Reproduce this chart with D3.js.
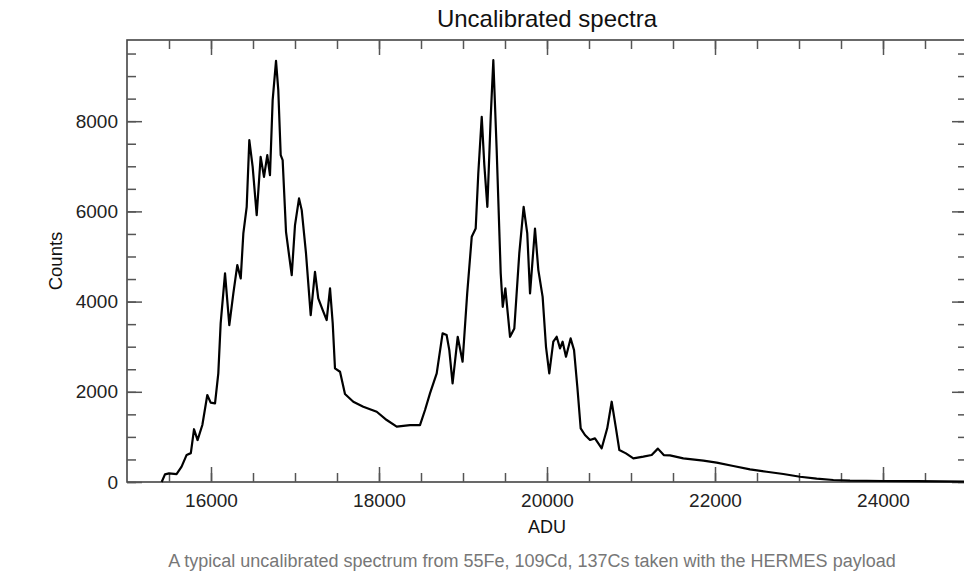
<!DOCTYPE html>
<html>
<head>
<meta charset="utf-8">
<script src="https://cdn.jsdelivr.net/npm/d3@7"></script>
<style>
    body { margin: 0; background: #fff; }
    #chart { width: 964px; height: 576px; }
    text { font-family: "Liberation Sans", Arial, sans-serif; }
</style>
</head>
<body>
<div id="chart"></div>
<script>
// spectrum (ADU channel, counts)
const adu = [15413, 15452, 15500, 15590, 15650, 15710, 15760, 15798, 15840, 15897,
    15956, 15996, 16048, 16087, 16115, 16167, 16218, 16266, 16313, 16354,
    16385, 16425, 16456, 16496, 16544, 16591, 16631, 16670, 16702, 16734,
    16774, 16801, 16830, 16853, 16893, 16932, 16961, 17000, 17048, 17080,
    17131, 17187, 17238, 17277, 17330, 17377, 17417, 17449, 17476, 17536,
    17595, 17694, 17813, 17973, 18092, 18211, 18369, 18488, 18548, 18607,
    18687, 18757, 18805, 18837, 18876, 18937, 18995, 19050, 19104, 19151,
    19182, 19223, 19254, 19290, 19330, 19361, 19401, 19449, 19473, 19504,
    19560, 19611, 19670, 19722, 19765, 19798, 19857, 19897, 19948, 19988,
    20027, 20075, 20115, 20155, 20186, 20226, 20281, 20322, 20361, 20401,
    20452, 20512, 20571, 20651, 20717, 20770, 20821, 20861, 20940, 21028,
    21147, 21246, 21320, 21390, 21464, 21623, 21862, 22020, 22218, 22417,
    22615, 22813, 23012, 23210, 23409, 23607, 24004, 24400, 25000];
const counts = [0, 170, 190, 175, 340, 600, 640, 1170, 930, 1263,
    1928, 1760, 1744, 2409, 3517, 4625, 3479, 4182, 4809, 4514,
    5511, 6101, 7579, 6987, 5917, 7209, 6765, 7246, 6803, 8465,
    9336, 8687, 7246, 7136, 5547, 4993, 4587, 5695, 6287, 6028,
    5067, 3701, 4661, 4071, 3812, 3590, 4292, 3517, 2520, 2445,
    1950, 1780, 1669, 1558, 1374, 1226, 1263, 1263, 1596, 1965,
    2409, 3295, 3258, 2925, 2187, 3220, 2666, 4182, 5436, 5621,
    6840, 8095, 7025, 6101, 8095, 9352, 7357, 4625, 3885, 4292,
    3220, 3406, 5067, 6101, 5511, 4182, 5621, 4698, 4106, 2998,
    2409, 3110, 3220, 2963, 3110, 2777, 3184, 2925, 2112, 1190,
    1042, 931, 968, 747, 1190, 1780, 1190, 709, 635, 525,
    561, 598, 740, 598, 590, 525, 472, 428, 355, 281,
    228, 177, 117, 73, 44, 29, 22, 18, 10];

const xDomain = [15000, 25000];
const yDomain = [0, 9800];
const xMajorTicks = [16000, 18000, 20000, 22000, 24000];
const xMinorTicks = d3.range(15500, 25000, 500);
const yMajorTicks = [0, 2000, 4000, 6000, 8000];
const yMinorTicks = d3.range(0, 10000, 500);

const titleText = "Uncalibrated spectra";
const xLabel = "ADU";
const yLabel = "Counts";
const caption = "A typical uncalibrated spectrum from 55Fe, 109Cd, 137Cs taken with the HERMES payload";

class spectrumChart {

    constructor(parentElement) {
        this.parentElement = parentElement;
        this.data = adu.map((a, i) => ({adu: a, counts: counts[i]}));
        this.initVis();
    }

    initVis() {
        let vis = this;

        // plot box, the right edge runs just past the window
        vis.margin = {top: 40, right: -3, bottom: 94, left: 127};
        vis.width = 964 - vis.margin.left - vis.margin.right;
        vis.height = 576 - vis.margin.top - vis.margin.bottom;

        vis.root = d3.select("#" + vis.parentElement).append("svg")
            .attr("width", 964)
            .attr("height", 576);

        vis.svg = vis.root.append("g")
            .attr("transform", `translate(${vis.margin.left}, ${vis.margin.top})`);

        vis.x = d3.scaleLinear().domain(xDomain).range([0, vis.width]);
        vis.y = d3.scaleLinear().domain(yDomain).range([vis.height, 0]);

        // frame
        vis.svg.append("rect")
            .attr("width", vis.width)
            .attr("height", vis.height)
            .attr("fill", "none")
            .attr("stroke", "#444")
            .attr("stroke-width", 1.6);

        // ticks point inwards on all four sides
        let noLabel = () => "";
        vis.drawAxis(d3.axisBottom(vis.x).tickValues(xMinorTicks).tickSize(-9).tickFormat(noLabel), `translate(0, ${vis.height})`);
        vis.drawAxis(d3.axisBottom(vis.x).tickValues(xMajorTicks).tickSize(-15).tickPadding(12).tickFormat(d3.format("d")), `translate(0, ${vis.height})`);
        vis.drawAxis(d3.axisTop(vis.x).tickValues(xMinorTicks).tickSize(-9).tickFormat(noLabel), "translate(0, 0)");
        vis.drawAxis(d3.axisTop(vis.x).tickValues(xMajorTicks).tickSize(-15).tickFormat(noLabel), "translate(0, 0)");
        vis.drawAxis(d3.axisLeft(vis.y).tickValues(yMinorTicks).tickSize(-9).tickFormat(noLabel), "translate(0, 0)");
        vis.drawAxis(d3.axisLeft(vis.y).tickValues(yMajorTicks).tickSize(-15).tickPadding(9).tickFormat(d3.format("d")), "translate(0, 0)");
        vis.drawAxis(d3.axisRight(vis.y).tickValues(yMinorTicks).tickSize(-9).tickFormat(noLabel), `translate(${vis.width}, 0)`);
        vis.drawAxis(d3.axisRight(vis.y).tickValues(yMajorTicks).tickSize(-15).tickFormat(noLabel), `translate(${vis.width}, 0)`);

        // title and axis labels
        vis.svg.append("text")
            .attr("x", vis.width / 2)
            .attr("y", -13)
            .attr("text-anchor", "middle")
            .attr("font-size", 24)
            .attr("fill", "#111")
            .text(titleText);

        vis.svg.append("text")
            .attr("x", vis.width / 2)
            .attr("y", vis.height + 51)
            .attr("text-anchor", "middle")
            .attr("font-size", 18)
            .attr("fill", "#111")
            .text(xLabel);

        vis.svg.append("text")
            .attr("transform", `translate(-65, ${vis.height / 2}) rotate(-90)`)
            .attr("text-anchor", "middle")
            .attr("font-size", 18.5)
            .attr("fill", "#111")
            .text(yLabel);

        vis.root.append("text")
            .attr("x", 532)
            .attr("y", 567)
            .attr("text-anchor", "middle")
            .attr("font-size", 18)
            .attr("fill", "#777")
            .text(caption);

        this.updateVis();
    }

    drawAxis(axis, transform) {
        let vis = this;
        let g = vis.svg.append("g")
            .attr("transform", transform)
            .call(axis.tickSizeOuter(0));
        g.select(".domain").remove();
        g.selectAll(".tick line")
            .attr("stroke", "#555")
            .attr("stroke-width", 1.5);
        g.selectAll(".tick text")
            .attr("font-size", 19)
            .attr("font-family", "'Liberation Sans', Arial, sans-serif")
            .attr("fill", "#222");
    }

    updateVis() {
        let vis = this;

        let line = d3.line()
            .x(d => vis.x(d.adu))
            .y(d => vis.y(d.counts));

        vis.svg.append("path")
            .datum(vis.data)
            .attr("d", line)
            .attr("fill", "none")
            .attr("stroke", "#000")
            .attr("stroke-width", 2.2)
            .attr("stroke-linejoin", "round");
    }
}

new spectrumChart("chart");
</script>
</body>
</html>
